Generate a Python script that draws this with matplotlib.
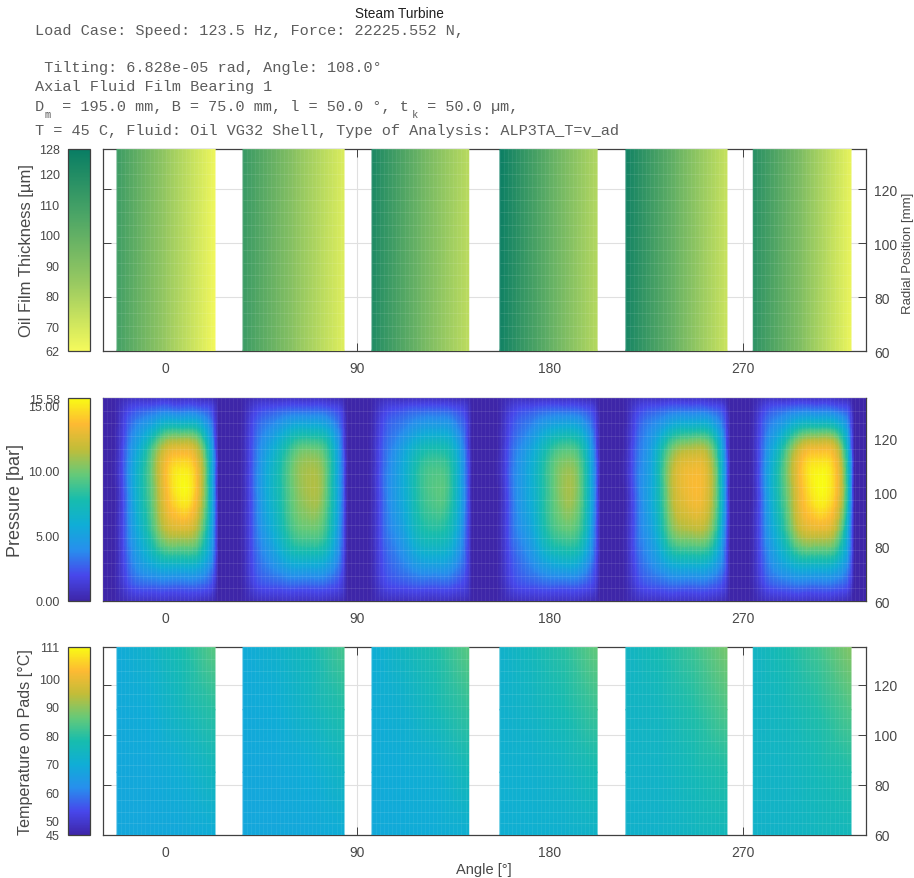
import numpy as np
import matplotlib
matplotlib.use('Agg')
import matplotlib.pyplot as plt
import matplotlib.tri as mtri
from matplotlib.colors import LinearSegmentedColormap, Normalize
from matplotlib.cm import ScalarMappable

plt.rcParams['font.family'] = ['Liberation Sans', 'DejaVu Sans']

pad_start = [-22.4, 36.5, 96.8, 156.6, 215.5, 275.0]
pad_end = [23.4, 83.7, 142.0, 202.0, 262.7, 320.7]

# film thickness, rows r = 60, 135 / columns leading, mid, trailing edge
film_radius = [60, 135]
film_frac = [0, 0.5, 1]
film = [
    [[109, 84, 62.5], [111, 85, 63.5]],
    [[111, 88, 67], [113, 89, 68]],
    [[120, 96, 75], [122, 97, 76]],
    [[125, 100, 77], [127, 101, 78]],
    [[123, 97, 72], [125, 98, 73]],
    [[116, 90, 64], [118, 91, 65]],
]

# pressure [bar] on each pad
press_radius = [60, 66, 74, 86, 103, 116, 124, 130, 135]
press_frac = [0, 0.1, 0.25, 0.4, 0.55, 0.68, 0.82, 0.92, 1]
p_pad1 = [
    [0.2, 0.6, 0.8, 0.9, 0.9, 0.9, 0.8, 0.6, 0.3],
    [0.4, 1.8, 2.8, 3.0, 3.0, 3.0, 3.0, 2.6, 1.2],
    [0.5, 2.6, 4.8, 6.2, 6.8, 6.8, 6.5, 5.0, 2.2],
    [0.6, 3.2, 6.5, 9.8, 12.0, 12.2, 11.0, 7.5, 2.8],
    [0.6, 3.5, 7.5, 11.0, 14.5, 15.5, 13.5, 9.0, 3.0],
    [0.6, 3.2, 6.5, 10.3, 12.8, 13.0, 11.8, 8.0, 2.8],
    [0.5, 2.5, 4.5, 6.5, 8.0, 8.0, 7.5, 5.0, 2.0],
    [0.4, 1.8, 2.8, 3.4, 3.6, 3.5, 3.4, 2.8, 1.3],
    [0.2, 0.6, 0.8, 0.9, 0.9, 0.9, 0.8, 0.6, 0.3],
]
p_pad2 = [
    [0.2, 0.5, 0.7, 0.8, 0.8, 0.8, 0.7, 0.5, 0.3],
    [0.3, 1.6, 2.4, 2.7, 2.8, 2.8, 2.7, 2.2, 1.0],
    [0.4, 2.2, 3.8, 5.2, 6.0, 6.0, 5.5, 4.0, 1.6],
    [0.5, 2.6, 5.2, 7.6, 9.4, 9.7, 8.6, 5.6, 2.0],
    [0.5, 2.8, 6.0, 8.4, 10.6, 11.3, 9.8, 6.2, 2.2],
    [0.5, 2.6, 5.2, 7.6, 9.6, 9.9, 8.8, 5.8, 2.0],
    [0.4, 2.2, 3.8, 5.2, 6.3, 6.3, 5.8, 4.0, 1.6],
    [0.3, 1.6, 2.5, 3.0, 3.2, 3.2, 3.0, 2.4, 1.1],
    [0.2, 0.5, 0.7, 0.8, 0.8, 0.8, 0.7, 0.5, 0.3],
]
p_pad3 = [
    [0.2, 0.5, 0.6, 0.7, 0.7, 0.7, 0.6, 0.5, 0.3],
    [0.3, 1.5, 2.2, 2.5, 2.6, 2.6, 2.5, 2.0, 1.0],
    [0.4, 2.0, 3.2, 4.3, 5.1, 5.2, 4.7, 3.4, 1.4],
    [0.5, 2.4, 4.2, 6.2, 7.8, 8.0, 7.0, 4.6, 1.6],
    [0.5, 2.6, 4.8, 7.0, 8.9, 9.4, 8.2, 5.2, 1.8],
    [0.5, 2.4, 4.2, 6.2, 7.6, 7.8, 7.0, 4.6, 1.6],
    [0.4, 2.0, 3.2, 4.2, 5.0, 5.1, 4.7, 3.3, 1.4],
    [0.3, 1.5, 2.3, 2.8, 3.0, 3.0, 2.8, 2.2, 1.0],
    [0.2, 0.5, 0.6, 0.7, 0.7, 0.7, 0.6, 0.5, 0.3],
]
p_pad4 = [
    [0.2, 0.5, 0.7, 0.8, 0.8, 0.8, 0.7, 0.5, 0.3],
    [0.3, 1.5, 2.3, 2.6, 2.8, 2.8, 2.7, 2.2, 1.0],
    [0.4, 2.0, 3.3, 4.6, 5.7, 6.1, 5.6, 3.9, 1.5],
    [0.5, 2.5, 4.4, 6.6, 8.8, 9.5, 8.7, 5.8, 1.9],
    [0.5, 2.7, 5.0, 7.2, 9.6, 11.0, 9.8, 6.5, 2.2],
    [0.5, 2.5, 4.4, 6.5, 8.6, 9.3, 8.5, 5.7, 1.9],
    [0.4, 2.0, 3.3, 4.6, 5.7, 6.1, 5.6, 3.9, 1.5],
    [0.3, 1.5, 2.4, 2.9, 3.2, 3.2, 3.0, 2.4, 1.0],
    [0.2, 0.5, 0.7, 0.8, 0.8, 0.8, 0.7, 0.5, 0.3],
]
p_pad5 = [
    [0.2, 0.6, 0.8, 0.9, 0.9, 0.9, 0.8, 0.6, 0.3],
    [0.3, 1.6, 2.5, 2.9, 3.0, 3.0, 2.9, 2.4, 1.1],
    [0.4, 2.3, 3.9, 5.5, 6.4, 6.5, 6.1, 4.5, 1.8],
    [0.5, 2.8, 5.0, 8.8, 11.0, 11.4, 10.6, 7.2, 2.3],
    [0.5, 3.0, 5.5, 10.0, 12.9, 13.5, 12.3, 8.5, 2.6],
    [0.5, 2.8, 5.0, 8.9, 11.2, 11.6, 10.8, 7.3, 2.3],
    [0.4, 2.3, 3.9, 5.6, 6.9, 7.1, 6.8, 4.7, 1.8],
    [0.3, 1.7, 2.7, 3.2, 3.5, 3.5, 3.3, 2.7, 1.2],
    [0.2, 0.6, 0.8, 0.9, 0.9, 0.9, 0.8, 0.6, 0.3],
]
p_pad6 = [
    [0.2, 0.6, 0.8, 0.9, 0.9, 0.9, 0.8, 0.6, 0.3],
    [0.4, 1.8, 2.8, 3.2, 3.2, 3.2, 3.1, 2.7, 1.3],
    [0.5, 2.6, 4.8, 6.3, 7.0, 7.0, 6.7, 5.2, 2.3],
    [0.6, 3.2, 6.6, 10.2, 12.4, 12.6, 11.8, 8.5, 3.0],
    [0.5, 3.5, 7.8, 11.5, 14.6, 15.58, 14.5, 11.0, 4.0],
    [0.6, 3.2, 6.8, 10.7, 13.2, 13.4, 12.9, 9.5, 3.4],
    [0.5, 2.6, 4.6, 6.8, 8.2, 8.3, 8.0, 6.0, 2.4],
    [0.4, 1.9, 3.0, 3.6, 3.9, 3.8, 3.6, 3.0, 1.5],
    [0.2, 0.6, 0.8, 0.9, 0.9, 0.9, 0.8, 0.6, 0.3],
]
pressure = [p_pad1, p_pad2, p_pad3, p_pad4, p_pad5, p_pad6]

# temperature on pads [C]
temp_radius = [60, 85, 110, 135]
temp_frac = [0, 0.33, 0.67, 1]
temp = [
    [[68, 68, 68.5, 70], [68, 68.5, 70.5, 75], [68.5, 70, 75, 80], [69, 72.5, 78, 85]],
    [[68, 68, 68.5, 70], [68, 68.5, 70, 74], [68.5, 70, 74, 79], [69, 72, 76, 83]],
    [[68.5, 69, 69.5, 71], [69, 69.5, 71, 76], [69.5, 71.5, 76, 81], [70, 74.5, 79, 85]],
    [[70.5, 71, 71.5, 73], [71, 71.5, 73.5, 77], [71.5, 73.5, 77, 82], [72, 75.5, 80, 86]],
    [[72, 72.5, 74, 75.5], [72.5, 73, 76, 79], [73, 74.5, 79, 84], [73.5, 77, 82, 88]],
    [[72.5, 73, 74.5, 75.5], [73, 73.5, 76, 79], [73, 75, 79, 84], [73.5, 77.5, 82.5, 89]],
]

film_ticks = [62, 70, 80, 90, 100, 110, 120, 128]
press_ticks = [0, 5, 10, 15, 15.58]
temp_ticks = [45, 50, 60, 70, 80, 90, 100, 111]
angle_ticks = [0, 90, 180, 270]
radius_ticks = [60, 80, 100, 120]

parula = LinearSegmentedColormap.from_list('parula', [
    (0.242, 0.150, 0.660), (0.280, 0.278, 0.922), (0.154, 0.560, 0.930),
    (0.060, 0.680, 0.840), (0.090, 0.740, 0.680), (0.400, 0.790, 0.470),
    (0.760, 0.740, 0.220), (0.995, 0.730, 0.200), (0.977, 0.984, 0.080)])
film_cmap = LinearSegmentedColormap.from_list('film', [
    (0.96, 0.98, 0.36), (0.60, 0.79, 0.38), (0.30, 0.65, 0.40), (0.03, 0.49, 0.39)])

W, H = 914, 879
grey = '#484848'
fig = plt.figure(figsize=(W / 100, H / 100), dpi=100)


def box(x0, y0, x1, y1):
    return [x0 / W, 1 - y1 / H, (x1 - x0) / W, (y1 - y0) / H]


def make_axes(top, bottom):
    ax = fig.add_axes(box(102.7, top, 866, bottom))
    ax.set_xlim(-29.1, 327.7)
    ax.set_ylim(60, 135)
    ax.set_xticks(angle_ticks)
    ax.set_yticks(radius_ticks)
    ax.grid(True, color='#e0e0e0', lw=0.8)
    ax.set_axisbelow(True)
    ax.tick_params(axis='x', which='both', direction='in', top=True, length=6, width=0.7, color='#404040',
                   labelsize=10, labelcolor=grey, pad=7)
    ax.tick_params(axis='y', which='both', direction='in', left=True, right=True, labelleft=False,
                   labelright=True, length=6, width=0.7, color='#404040', labelsize=10, labelcolor=grey, pad=6)
    for s in ax.spines.values():
        s.set_color('#404040')
        s.set_linewidth(0.9)
        s.set_zorder(0.9)
    return ax


def mesh_lines(ax, x0, x1):
    # element borders of the solver mesh show as faint light lines
    ax.hlines(np.linspace(60, 135, 17), x0, x1, color='w', alpha=0.1, lw=0.8, zorder=3)
    ax.vlines(np.arange(x0, x1, 1.9), 60, 135, color='w', alpha=0.06, lw=0.8, zorder=3)


def colorbar(top, bottom, cmap, vmin, vmax, ticks, labels, title, title_x, title_size):
    cax = fig.add_axes(box(68, top, 90, bottom))
    sm = ScalarMappable(norm=Normalize(vmin, vmax), cmap=cmap)
    cb = fig.colorbar(sm, cax=cax, ticks=ticks)
    cb.ax.yaxis.tick_left()
    cb.ax.set_yticklabels(labels)
    cb.ax.tick_params(length=0, labelsize=9, labelcolor=grey, pad=6)
    cb.outline.set_edgecolor('#404040')
    cb.outline.set_linewidth(0.9)
    fig.text(title_x / W, 1 - (top + bottom) / 2 / H, title, rotation=90, ha='center', va='center',
             fontsize=title_size, color=grey)


# film thickness
ax1 = make_axes(150, 352)
for i in range(6):
    x = pad_start[i] + np.array(film_frac) * (pad_end[i] - pad_start[i])
    ax1.pcolormesh(x, film_radius, film[i], shading='gouraud', cmap=film_cmap, vmin=62, vmax=128, zorder=2)
    mesh_lines(ax1, pad_start[i], pad_end[i])
colorbar(150, 352, film_cmap, 62, 128, film_ticks, [str(t) for t in film_ticks],
         'Oil Film Thickness [µm]', 27, 12)
fig.text(908 / W, 1 - 253 / H, 'Radial Position [mm]', rotation=90, ha='center', va='center',
         fontsize=9.5, color=grey)

# pressure, the gaps between the pads are at zero
ax2 = make_axes(399, 602)
ax2.pcolormesh(ax2.get_xlim(), ax2.get_ylim(), [[0]], cmap=parula, vmin=0, vmax=15.58, zorder=1.5)
for i in range(6):
    w = pad_end[i] - pad_start[i]
    x = pad_start[i] + np.array([-0.05] + press_frac + [1.03]) * w
    z = np.pad(np.array(pressure[i]), ((0, 0), (1, 1)))
    xx, yy = np.meshgrid(x, press_radius)
    refiner = mtri.UniformTriRefiner(mtri.Triangulation(xx.ravel(), yy.ravel()))
    tri2, z2 = refiner.refine_field(z.ravel(), subdiv=3)
    ax2.tripcolor(tri2, np.clip(z2, 0, 15.58), shading='gouraud', cmap=parula, vmin=0, vmax=15.58, zorder=2)
mesh_lines(ax2, -29.1, 327.7)
colorbar(399, 602, parula, 0, 15.58, press_ticks, ['%.2f' % t for t in press_ticks],
         'Pressure [bar]', 16, 13)

# temperature
ax3 = make_axes(648, 836)
for i in range(6):
    x = pad_start[i] + np.array(temp_frac) * (pad_end[i] - pad_start[i])
    ax3.pcolormesh(x, temp_radius, temp[i], shading='gouraud', cmap=parula, vmin=45, vmax=111, zorder=2)
    mesh_lines(ax3, pad_start[i], pad_end[i])
colorbar(648, 836, parula, 45, 111, temp_ticks, [str(t) for t in temp_ticks],
         'Temperature on Pads [°C]', 26, 11.6)
fig.text(484 / W, 1 - 870 / H, 'Angle [°]', ha='center', va='center', fontsize=10.5, color=grey)

# header
fig.text(399 / W, 1 - 14 / H, 'Steam Turbine', ha='center', va='center', fontsize=9.8, color='#202020')
mono = dict(family='Liberation Mono', fontsize=11, color='#5c5c5c', va='center')
char_w = 9.13
lines = [
    (35, 31, 'Load Case: Speed: 123.5 Hz, Force: 22225.552 N,'),
    (35, 68, ' Tilting: 6.828e-05 rad, Angle: 108.0°'),
    (35, 87, 'Axial Fluid Film Bearing 1'),
    (35, 107, 'D'),
    (35 + 2 * char_w, 107, ' = 195.0 mm, B = 75.0 mm, l = 50.0 °, t'),
    (35 + 42 * char_w, 107, ' = 50.0 µm,'),
    (35, 131, 'T = 45 C, Fluid: Oil VG32 Shell, Type of Analysis: ALP3TA_T=v_ad'),
]
for x, y, s in lines:
    fig.text(x / W, 1 - y / H, s, **mono)
sub = dict(mono, fontsize=7.5)
fig.text((35 + char_w) / W, 1 - 115 / H, 'm', **sub)
fig.text((35 + 41 * char_w + 2) / W, 1 - 115 / H, 'k', **sub)

fig.savefig('out.png', dpi=100)
